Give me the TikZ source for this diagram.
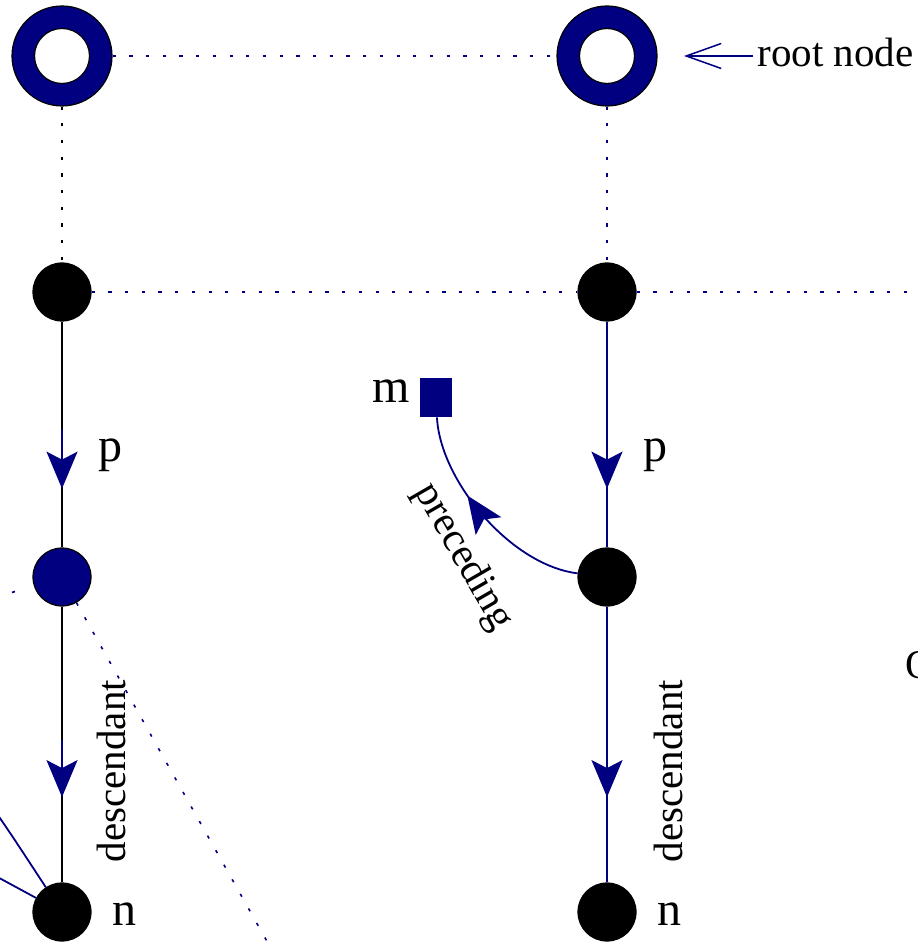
\documentclass[tikz,border=0pt]{standalone}
\usepackage{fontspec}
\setmainfont{Liberation Serif}
\usetikzlibrary{arrows.meta,calc,decorations.markings}
\definecolor{navy}{RGB}{0,0,128}
\begin{document}
\begin{tikzpicture}[x=0.5pt,y=-0.5pt,
  font=\fontsize{20.5}{24}\selectfont,
  bnode/.style={circle,fill=black,draw=black,line width=0.6pt,minimum size=29pt,inner sep=0pt},
  blnode/.style={bnode,fill=navy},
  rootnode/.style={circle,fill=navy,draw=black,line width=0.6pt,minimum size=50pt,inner sep=0pt},
  rootin/.style={circle,fill=white,draw=black,line width=0.6pt,minimum size=27.5pt,inner sep=0pt},
  edge/.style={line width=0.9pt},
  dotline/.style={line width=0.8pt,dash pattern=on 1.6pt off 6.75pt},
  tipa/.style={-{Stealth[length=18.5pt,width=15.5pt,inset=4pt]}},
  lbl/.style={inner sep=0pt},
  bigl/.style={inner sep=0pt,font=\fontsize{24}{28}\selectfont},
  midarrow/.style={decoration={markings,mark=at position #1 with {\arrow{Stealth[length=18.5pt,width=15.5pt,inset=4pt]}}},postaction={decorate}}
]
\useasboundingbox (0,0) rectangle (917,945);
\clip (0,0) rectangle (917,945);

% nodes
\node[rootnode] (r1) at (62,56) {};
\node[rootin] (r1i) at (62,56) {};
\node[rootnode] (r2) at (607,56) {};
\node[rootin] (r2i) at (607,56) {};
\node[bnode] (b1) at (62,292) {};
\node[bnode] (b2) at (607,292) {};
\node[blnode] (bl) at (62,577) {};
\node[bnode] (b3) at (607,577) {};
\node[bnode] (n1) at (62,912) {};
\node[bnode] (n2) at (607,912) {};
\node[fill=navy,minimum width=16pt,minimum height=19.5pt,inner sep=0pt] (m) at (436,397.5) {};

\coordinate (eR) at (960,292);
\coordinate (eL) at (-100,629);
\coordinate (eL2) at (15,591.5);
\coordinate (eD) at (300,1000);
\coordinate (cA) at (-60,740);
\coordinate (cB) at (-80,835);
\coordinate (rtip) at (684,56);

% dotted lines
\draw[dotline,navy] (r1) -- (r2);
\draw[dotline] (r1) -- (b1);
\draw[dotline,navy] (r2) -- (b2);
\draw[dotline,navy] (b1) -- (b2);
\draw[dotline,navy] (b2) -- (eR);
\draw[dotline,navy] (eL2) -- (eL);
\draw[dotline,navy] (bl) -- (eD);

% left column
\draw[edge] (b1) -- (bl);
\draw[edge,navy,tipa] ($(b1)!0.48!(bl)$) -- ($(b1)!0.69!(bl)$);
\draw[edge] (bl) -- (n1);
\draw[edge,navy,tipa] ($(bl)!0.487!(n1)$) -- ($(bl)!0.657!(n1)$);

% right column
\draw[edge,navy] (b2) -- (b3);
\draw[edge,navy,tipa] ($(b2)!0.48!(b3)$) -- ($(b2)!0.69!(b3)$);
\draw[edge,navy] (b3) -- (n2);
\draw[edge,navy,tipa] ($(b3)!0.487!(n2)$) -- ($(b3)!0.657!(n2)$);

% curves into n1 from the left
\draw[edge,navy] (cA) .. controls (-8,805) .. (n1);
\draw[edge,navy] (cB) -- (n1);

% preceding
\draw[edge,navy,midarrow=0.62] (b3) .. controls (510,565) and (440,480) .. (m);

% labels
\node[bigl,anchor=base west] (pL) at (98,461) {p};
\node[bigl,anchor=base west] (pR) at (643,461) {p};
\node[bigl,anchor=base west] (nL) at (112,925) {n};
\node[bigl,anchor=base west] (nR) at (657,925) {n};
\node[bigl,anchor=base east] (ml) at (410,403) {m};
\node[lbl,rotate=90,anchor=base] (dL) at (125,771) {descendant};
\node[lbl,rotate=90,anchor=base] (dR) at (682,771) {descendant};
\node[lbl,rotate=-60] (pr) at (463,557) {preceding};
\node[lbl,anchor=base west,inner sep=2pt] (rl) at (753,67) {root node};
\node[lbl,anchor=base west] (cut) at (905,678) {O};

\draw[navy,line width=0.75pt,-{Straight Barb[length=17.5pt,width=12.5pt]}] (rl.west |- r2) -- (rtip);
\end{tikzpicture}
\end{document}
